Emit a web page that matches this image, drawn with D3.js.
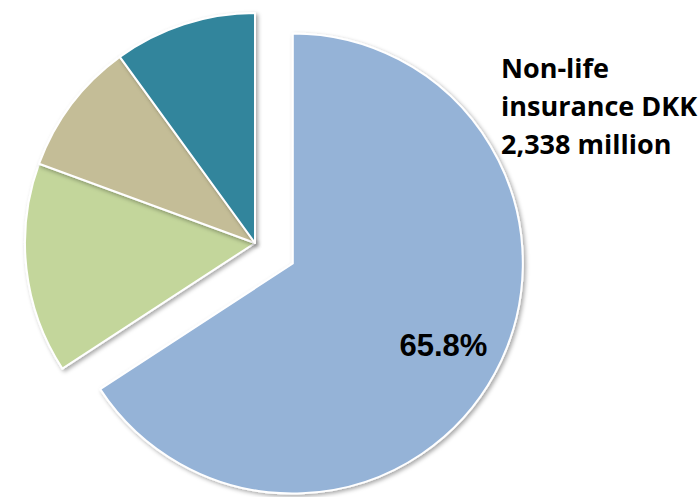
<!DOCTYPE html>
<html>
<head>
<meta charset="utf-8">
<script src="https://cdn.jsdelivr.net/npm/d3@7"></script>
<style>
  html, body { margin: 0; padding: 0; background: #ffffff; }
  svg { display: block; }
</style>
</head>
<body>
<svg id="chart" width="699" height="497"></svg>
<script>
// Business segments (share of total, %)
const segments = ["Non-life insurance", "Segment B", "Segment C", "Segment D"];
const shares = [65.8, 14.8, 9.4, 10.0];
const colors = ["#95B3D7", "#C3D69B", "#C4BD97", "#31859C"];
const explodedIndex = 0;
const calloutLines = ["Non-life", "insurance DKK", "2,338 million"];

const width = 699, height = 497;
const cx = 255, cy = 243, radius = 230, explodeDist = 43;

const svg = d3.select("#chart");

const defs = svg.append("defs");
const shadow = defs.append("filter")
  .attr("id", "shadow")
  .attr("x", "-10%").attr("y", "-10%")
  .attr("width", "130%").attr("height", "130%");
shadow.append("feDropShadow")
  .attr("dx", 2).attr("dy", 2)
  .attr("stdDeviation", 2)
  .attr("flood-color", "#000")
  .attr("flood-opacity", 0.35);

const data = segments.map((name, i) => ({ name, value: shares[i], color: colors[i] }));

const pie = d3.pie().sort(null).value(d => d.value);
const arc = d3.arc().innerRadius(0).outerRadius(radius);
const arcs = pie(data);

const g = svg.append("g").attr("transform", `translate(${cx},${cy})`);

function offset(d, i) {
  if (i !== explodedIndex) return [0, 0];
  const mid = (d.startAngle + d.endAngle) / 2;
  return [Math.sin(mid) * explodeDist, -Math.cos(mid) * explodeDist];
}

g.selectAll("path.slice")
  .data(arcs)
  .join("path")
  .attr("class", "slice")
  .attr("transform", (d, i) => { const [x, y] = offset(d, i); return `translate(${x},${y})`; })
  .attr("d", arc)
  .attr("fill", d => d.data.color)
  .attr("stroke", "#ffffff")
  .attr("stroke-width", 2)
  .attr("stroke-linejoin", "round")
  .attr("filter", "url(#shadow)");

// Percentage label on the exploded slice
const main = arcs[explodedIndex];
const [ox, oy] = offset(main, explodedIndex);
const labelR = radius * 0.745;
const labelArc = d3.arc().innerRadius(labelR).outerRadius(labelR);
const [lx, ly] = labelArc.centroid(main);
g.append("text")
  .attr("x", lx + ox)
  .attr("y", ly + oy)
  .attr("dy", "0.35em")
  .attr("text-anchor", "middle")
  .attr("font-family", "Liberation Sans, Arial, sans-serif")
  .attr("font-weight", "bold")
  .attr("font-size", 31)
  .attr("fill", "#000")
  .text(d3.format(".1f")(main.data.value) + "%");

// Callout text
const callout = svg.append("text")
  .attr("font-family", "Open Sans, sans-serif")
  .attr("font-weight", "bold")
  .attr("font-size", 27)
  .attr("fill", "#000");
callout.selectAll("tspan")
  .data(calloutLines)
  .join("tspan")
  .attr("x", 501)
  .attr("y", (d, i) => 78 + i * 38)
  .text(d => d);
</script>
</body>
</html>
